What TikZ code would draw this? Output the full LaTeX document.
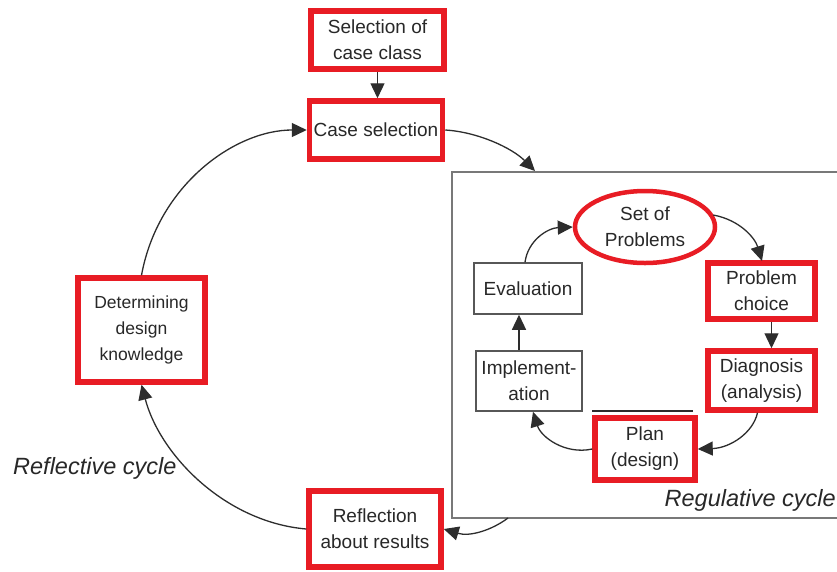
\documentclass[tikz,border=0pt]{standalone}
\usepackage{fontspec}
\setmainfont{Liberation Sans}
\usetikzlibrary{arrows.meta,shapes.geometric}
\definecolor{boxred}{RGB}{232,28,36}
\definecolor{txtgray}{RGB}{40,40,40}
\definecolor{framegray}{RGB}{120,120,120}
\definecolor{linegray}{RGB}{45,45,45}
\begin{document}
\begin{tikzpicture}[x=1pt,y=-1pt,
  lbl/.style={font=\fontsize{19}{26}\selectfont, text=txtgray, align=center, inner sep=0pt},
  redbox/.style={lbl, draw=boxred, line width=5.5pt, fill=white},
  graybox/.style={lbl, draw=linegray!80, line width=1.5pt, fill=white},
  redell/.style={lbl, ellipse, draw=boxred, line width=4.5pt, fill=white},
  conn/.style={draw=linegray, line width=1.3pt, -{Triangle[length=15pt,width=14pt]}},
  cyclelbl/.style={font=\fontsize{23.5}{26}\itshape, text=txtgray, inner sep=0pt}
]
\useasboundingbox (0,0) rectangle (837,571);
\clip (0,0) rectangle (837,571);
\fill[white] (0,0) rectangle (837,571);

% regulative frame
\draw[framegray, line width=2pt, fill=white] (452,172) rectangle (860,518);

% outer nodes
\node[redbox, minimum width=133pt, minimum height=58pt] (scc) at (377.5,40) {Selection of\\case class};
\node[redbox, minimum width=133pt, minimum height=58pt] (cs) at (376,130) {Case selection};
\node[redbox, minimum width=127pt, minimum height=104pt, font=\fontsize{17.5}{26}\selectfont] (ddk) at (141.5,330) {Determining\\design\\knowledge};
\node[redbox, minimum width=132pt, minimum height=76pt] (rar) at (375,529) {Reflection\\about results};

% inner nodes
\node[redell, minimum width=140pt, minimum height=72pt] (sop) at (645,227) {Set of\\Problems};
\node[redbox, minimum width=107pt, minimum height=56pt] (pc) at (761.5,291) {Problem\\choice};
\node[redbox, minimum width=107pt, minimum height=59pt] (diag) at (761.5,380.5) {Diagnosis\\(analysis)};
\node[redbox, minimum width=100pt, minimum height=62pt] (plan) at (645,449) {Plan\\(design)};
\node[graybox, minimum width=108pt, minimum height=51pt] (eval) at (528,288.5) {Evaluation};
\node[graybox, minimum width=106pt, minimum height=60pt] (impl) at (529,381) {Implement-\\ation};

\draw[linegray, line width=1.3pt] (592,411) -- (693,411);

% labels
\node[cyclelbl, anchor=west] (refl) at (13,468) {Reflective cycle};
\node[cyclelbl, anchor=east] (regl) at (836,500) {Regulative cycle};

% outer connectors
\draw[conn] (scc.south) -- (scc.south |- cs.north);
\coordinate (regtop) at (535,171);
\coordinate (regbot) at (508,518);
\draw[conn] (cs.east) .. controls (478,132) and (512,148) .. (regtop);
\draw[conn] (regbot) .. controls (492,530) and (470,537) .. (rar.east);
\draw[conn] (rar.west) .. controls (225,522) and (160,455) .. (ddk.south);
\draw[conn] (ddk.north) .. controls (158,185) and (235,130) .. (cs.west);

% inner connectors
\draw[conn] (sop.east) ++(-4,-12) .. controls (740,220) and (755,238) .. (762,261);
\draw[conn] ([xshift=10pt]pc.south) -- ([xshift=10pt]diag.north);
\draw[conn] ([xshift=-4pt]diag.south) .. controls (753,433) and (730,448) .. (plan.east);
\draw[conn] (plan.west) .. controls (565,455) and (541,437) .. ([xshift=4pt]impl.south);
\draw[conn] ([xshift=-10pt]impl.north) -- ([xshift=-10pt]impl.north |- eval.south);
\draw[conn] ([xshift=-3pt]eval.north) .. controls (528,240) and (548,228) .. (sop.west);
\end{tikzpicture}
\end{document}
